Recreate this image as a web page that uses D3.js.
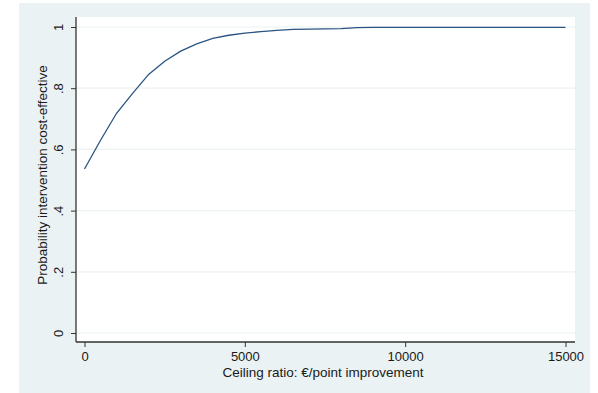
<!DOCTYPE html>
<html><head><meta charset="utf-8">
<script src="https://cdn.jsdelivr.net/npm/d3@7"></script>
<style>body{margin:0;background:#fff}svg{display:block}text{font-family:"Liberation Sans",Arial,sans-serif;fill:#1a1a1a}</style>
</head><body>
<svg id="c" width="598" height="393"></svg>
<script>
const ceiling = [0,500,1000,1500,2000,2500,3000,3500,4000,4500,5000,5500,6000,6500,7000,7500,8000,8500,9000,9500,10000,10500,11000,11500,12000,12500,13000,13500,14000,14500,15000];
const probability = [0.536,0.630,0.718,0.783,0.845,0.888,0.921,0.945,0.963,0.973,0.980,0.985,0.989,0.992,0.993,0.994,0.995,0.998,0.999,0.999,0.999,0.999,0.999,0.999,0.999,0.999,0.999,0.999,0.999,0.999,0.999];
const xTicks = [0,5000,10000,15000];
const yTicks = [0,0.2,0.4,0.6,0.8,1];
const yTickLabels = ["0",".2",".4",".6",".8","1"];
const xTitle = "Ceiling ratio: €/point improvement";
const yTitle = "Probability intervention cost-effective";

const svg = d3.select("#c");
svg.append("rect").attr("x",19).attr("y",3).attr("width",571).attr("height",390).attr("fill","#eaf2f3");
const L=76,R=575,T=17,B=342;
svg.append("rect").attr("x",L).attr("y",T).attr("width",R-L).attr("height",B-T).attr("fill","#fff");
const x = d3.scaleLinear().domain([0,15000]).range([84.5,565.5]);
const y = d3.scaleLinear().domain([0,1]).range([333,27]);

svg.append("g").selectAll("line").data(yTicks).join("line")
  .attr("x1",L).attr("x2",R).attr("y1",d=>y(d)).attr("y2",d=>y(d))
  .attr("stroke","#eaf2f3").attr("stroke-width",1.2);

const line = d3.line().x((d,i)=>x(ceiling[i])).y(d=>y(d));
svg.append("path").datum(probability).attr("d",line).attr("fill","none")
  .attr("stroke","#2a5482").attr("stroke-width",1.3);

// y axis
const ya = svg.append("g").attr("transform",`translate(${L},0)`)
  .call(d3.axisLeft(y).tickValues(yTicks).tickSize(5).tickFormat((d,i)=>yTickLabels[i]));
ya.select(".domain").attr("d",`M0,${T}V${B}`).attr("stroke","#333").attr("stroke-width",1.3);
ya.selectAll(".tick line").attr("stroke","#333");
ya.selectAll(".tick text").attr("transform","rotate(-90)").attr("x",0).attr("y",-13)
  .attr("dy",0).attr("text-anchor","middle").attr("font-size",13).attr("fill","#1a1a1a");

// x axis
const xa = svg.append("g").attr("transform",`translate(0,${B})`)
  .call(d3.axisBottom(x).tickValues(xTicks).tickSize(5).tickFormat(d3.format("d")));
xa.select(".domain").attr("d",`M${L},0H${R}`).attr("stroke","#333").attr("stroke-width",1.3);
xa.selectAll(".tick line").attr("stroke","#333");
xa.selectAll(".tick text").attr("y",19).attr("dy",0).attr("font-size",13).attr("fill","#1a1a1a");

svg.append("text").attr("x",323).attr("y",377).attr("text-anchor","middle")
  .attr("font-size",13.5).text(xTitle);
svg.append("text").attr("transform","translate(47,175) rotate(-90)").attr("text-anchor","middle")
  .attr("font-size",13.5).text(yTitle);
</script>
</body></html>
